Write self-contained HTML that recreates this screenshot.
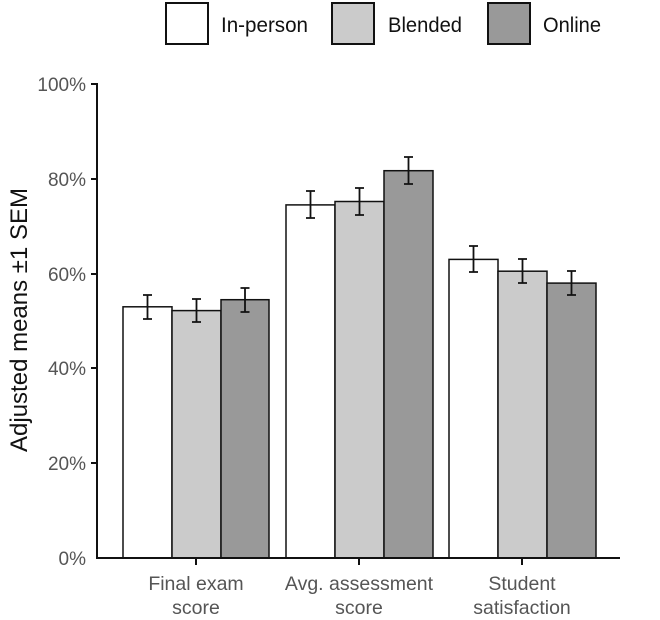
<!DOCTYPE html>
<html><head><style>body{margin:0;background:#fff}</style></head><body>
<svg width="660" height="615" xmlns="http://www.w3.org/2000/svg" font-family="Liberation Sans, sans-serif">
<rect width="660" height="615" fill="#fff"/>
<!-- legend -->
<rect x="166" y="3" width="42" height="41" fill="#fff" stroke="#111" stroke-width="2"/>
<text x="221" y="32" font-size="21" fill="#111" textLength="87" lengthAdjust="spacingAndGlyphs">In-person</text>
<rect x="332" y="3" width="42" height="41" fill="#cbcbcb" stroke="#111" stroke-width="2"/>
<text x="388" y="32" font-size="21" fill="#111" textLength="74" lengthAdjust="spacingAndGlyphs">Blended</text>
<rect x="488" y="3" width="42" height="41" fill="#999" stroke="#111" stroke-width="2"/>
<text x="543" y="32" font-size="21" fill="#111" textLength="58" lengthAdjust="spacingAndGlyphs">Online</text>
<!-- y axis -->
<g font-size="19" fill="#555" text-anchor="end">
<text x="86" y="91">100%</text><text x="86" y="186">80%</text><text x="86" y="281">60%</text>
<text x="86" y="375">40%</text><text x="86" y="470">20%</text><text x="86" y="565">0%</text>
</g>
<g stroke="#111" stroke-width="2">
<line x1="91" y1="84" x2="97" y2="84"/><line x1="91" y1="179" x2="97" y2="179"/><line x1="91" y1="274" x2="97" y2="274"/>
<line x1="91" y1="368" x2="97" y2="368"/><line x1="91" y1="463" x2="97" y2="463"/>
</g>
<text transform="translate(27,320) rotate(-90)" font-size="24" fill="#111" text-anchor="middle">Adjusted means ±1 SEM</text>
<!-- bars -->
<g stroke="#111" stroke-width="1.5">
<rect x="123" y="306.8" width="49" height="251.2" fill="#fff"/>
<rect x="172" y="310.6" width="49" height="247.4" fill="#cbcbcb"/>
<rect x="221" y="299.7" width="48" height="258.3" fill="#999"/>
<rect x="286" y="204.9" width="49" height="353.1" fill="#fff"/>
<rect x="335" y="201.5" width="49" height="356.5" fill="#cbcbcb"/>
<rect x="384" y="170.7" width="49" height="387.3" fill="#999"/>
<rect x="449" y="259.4" width="49" height="298.6" fill="#fff"/>
<rect x="498" y="271.2" width="49" height="286.8" fill="#cbcbcb"/>
<rect x="547" y="283.1" width="49" height="274.9" fill="#999"/>
</g>
<!-- error bars -->
<g stroke="#111" stroke-width="1.8" fill="none">
<path d="M147.5 295v24M143 295h9M143 319h9"/>
<path d="M196.5 299v23M192 299h9M192 322h9"/>
<path d="M245 288v24M240.5 288h9M240.5 312h9"/>
<path d="M310.5 191v27M306 191h9M306 218h9"/>
<path d="M359.5 188v27M355 188h9M355 215h9"/>
<path d="M408.5 157v27M404 157h9M404 184h9"/>
<path d="M473.5 246v26M469 246h9M469 272h9"/>
<path d="M522.5 259v24M518 259h9M518 283h9"/>
<path d="M571.5 271v24M567 271h9M567 295h9"/>
</g>
<!-- axes -->
<line x1="97" y1="83" x2="97" y2="559" stroke="#111" stroke-width="2"/>
<line x1="96" y1="558" x2="620" y2="558" stroke="#111" stroke-width="2"/>
<g stroke="#111" stroke-width="2">
<line x1="196" y1="558" x2="196" y2="565"/><line x1="359" y1="558" x2="359" y2="565"/><line x1="522" y1="558" x2="522" y2="565"/>
</g>
<g font-size="19.5" fill="#555" text-anchor="middle">
<text x="196" y="590">Final exam</text><text x="196" y="614">score</text>
<text x="359" y="590">Avg. assessment</text><text x="359" y="614">score</text>
<text x="522" y="590">Student</text><text x="522" y="614">satisfaction</text>
</g>
</svg>
</body></html>
